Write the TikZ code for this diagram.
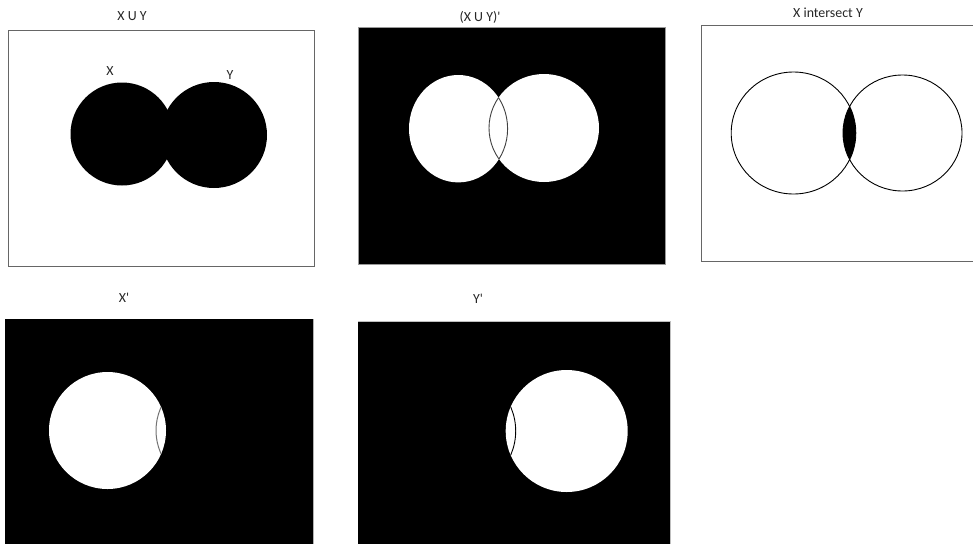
\documentclass[tikz,border=0pt]{standalone}
\usepackage{fontspec}
\setmainfont{Carlito}[Ligatures=TeXOff]
\begin{document}
\begin{tikzpicture}[x=1pt,y=-1pt,
  title/.style={font=\fontsize{13.9}{16}\selectfont, text=black!85, inner sep=0pt},
  frame/.style={draw=black!60, line width=1pt},
  arcline/.style={draw=black!75, line width=0.9pt}]
\useasboundingbox (0,0) rectangle (973,544);

% ---------- Panel 1: X U Y ----------
\node[title] (t1) at (132,16) {X U Y};
\draw[frame] (8,30) rectangle (314,266);
\fill[black] (122,134) circle[radius=51.5];
\fill[black] (214,135) circle[radius=53];
\node[title] (lx) at (110,71) {X};
\node[title] (ly) at (230,75) {Y};

% ---------- Panel 2: (X U Y)' ----------
\node[title] (t2) at (480,17) {(X U Y)'};
\fill[black] (358,27) rectangle (665,264);
\draw[draw=black!40, line width=0.8pt] (358,27) rectangle (665,264);
\fill[white] (458.3,128.7) ellipse[x radius=49.3, y radius=53.7];
\fill[white] (544,128) ellipse[x radius=55, y radius=54];
\begin{scope}
  \clip (544,128) ellipse[x radius=55, y radius=54];
  \draw[arcline] (458.3,128.7) ellipse[x radius=49.3, y radius=53.7];
\end{scope}
\begin{scope}
  \clip (458.3,128.7) ellipse[x radius=49.3, y radius=53.7];
  \draw[arcline] (544,128) ellipse[x radius=55, y radius=54];
\end{scope}

% ---------- Panel 3: X intersect Y ----------
\node[title] (t3) at (828,13) {X intersect Y};
\draw[frame] (973,25) -- (701,25) -- (701,261.7) -- (973,261.7);
\begin{scope}
  \clip (793.5,133) ellipse[x radius=62.3, y radius=61];
  \fill[black] (902.5,133) ellipse[x radius=59.5, y radius=58];
\end{scope}
\draw[line width=0.9pt] (793.5,133) ellipse[x radius=62.3, y radius=61];
\draw[line width=0.9pt] (902.5,133) ellipse[x radius=59.5, y radius=58];

% ---------- Panel 4: X' ----------
\node[title] (t4) at (124,298) {X'};
\fill[black] (5,319) rectangle (313.3,544);
\draw[draw=black!30, line width=0.8pt] (313.3,544) -- (313.3,319);
\fill[white] (107.5,430.5) circle[radius=58.5];
\begin{scope}
  \clip (107.5,430.5) circle[radius=58.5];
  \draw[draw=black!55, line width=1pt] (212,430.5) circle[radius=56];
\end{scope}

% ---------- Panel 5: Y' ----------
\node[title] (t5) at (478,299) {Y'};
\fill[black] (358.3,321) rectangle (670,544);
\draw[draw=black!25, line width=0.8pt] (358.3,321) -- (670,321) -- (670,544);
\fill[white] (566.7,431) circle[radius=61];
\begin{scope}
  \clip (566.7,431) circle[radius=61];
  \draw[line width=0.9pt] (455.7,431) circle[radius=60];
\end{scope}
\end{tikzpicture}
\end{document}
